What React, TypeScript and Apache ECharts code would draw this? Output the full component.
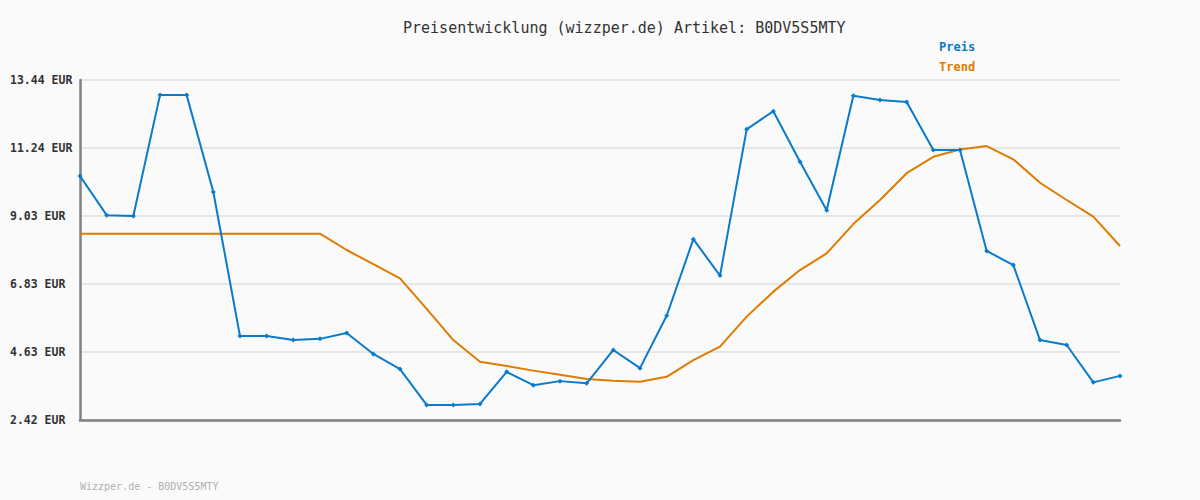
import React, { useEffect, useRef } from "react";
import * as echarts from "echarts";

const titleText = "Preisentwicklung (wizzper.de) Artikel: B0DV5S5MTY";
const footerText = "Wizzper.de - B0DV5S5MTY";

const categories: string[] = Array.from({ length: 40 }, (_, i) => String(i + 1));

const preis: number[] = [
  10.33, 9.06, 9.03, 12.95, 12.95, 9.81, 5.14, 5.14, 5.01, 5.05,
  5.24, 4.56, 4.07, 2.91, 2.91, 2.94, 3.98, 3.55, 3.68, 3.61,
  4.69, 4.10, 5.80, 8.28, 7.10, 11.84, 12.43, 10.79, 9.22, 12.93,
  12.79, 12.73, 11.17, 11.17, 7.90, 7.44, 5.01, 4.85, 3.64, 3.85,
];

const trend: number[] = [
  8.46, 8.46, 8.46, 8.46, 8.46, 8.46, 8.46, 8.46, 8.46, 8.46,
  7.93, 7.47, 7.01, 6.02, 5.01, 4.31, 4.17, 4.02, 3.89, 3.75,
  3.69, 3.66, 3.82, 4.36, 4.80, 5.77, 6.58, 7.28, 7.82, 8.77,
  9.55, 10.42, 10.95, 11.19, 11.30, 10.87, 10.11, 9.55, 9.01, 8.06,
];

const yMin = 2.42;
const yMax = 13.44;
const yTickLabels: string[] = ["2.42 EUR", "4.63 EUR", "6.83 EUR", "9.03 EUR", "11.24 EUR", "13.44 EUR"];

const BLUE = "#0a7acc";
const ORANGE = "#e07b00";
const MONO = "'DejaVu Sans Mono', 'Liberation Mono', monospace";

export default function App() {
  const ref = useRef<HTMLDivElement>(null);

  useEffect(() => {
    if (!ref.current) return;
    const chart = echarts.init(ref.current, undefined, { renderer: "svg" });
    chart.setOption({
      animation: false,
      backgroundColor: "#fafafa",
      title: {
        text: titleText,
        left: 403,
        top: 20,
        padding: 0,
        textStyle: {
          fontFamily: MONO,
          fontSize: 15,
          fontWeight: "normal",
          color: "#333333",
          lineHeight: 16,
        },
      },
      legend: {
        orient: "vertical",
        left: 933,
        top: 40,
        padding: 0,
        itemGap: 6,
        itemWidth: 0,
        itemHeight: 0,
        selectedMode: false,
        textStyle: {
          fontFamily: MONO,
          fontSize: 12,
          fontWeight: "bold",
          lineHeight: 14,
        },
        data: [
          { name: "Preis", textStyle: { color: BLUE } },
          { name: "Trend", textStyle: { color: ORANGE } },
        ],
      },
      grid: { left: 80, right: 80, top: 80, bottom: 80, containLabel: false },
      xAxis: {
        type: "category",
        data: categories,
        boundaryGap: false,
        axisLine: { show: true, lineStyle: { color: "#808080", width: 2.5 } },
        axisTick: { show: false },
        axisLabel: { show: false },
        splitLine: { show: false },
      },
      yAxis: [
        {
          type: "value",
          min: yMin,
          max: yMax,
          position: "left",
          axisLine: { show: false },
          axisTick: { show: false },
          axisLabel: { show: false },
          splitLine: { show: false },
        },
        {
          type: "value",
          min: 0,
          max: yTickLabels.length - 1,
          interval: 1,
          position: "left",
          axisLine: { show: true, lineStyle: { color: "#808080", width: 2.5 } },
          axisTick: { show: false },
          axisLabel: {
            show: true,
            align: "left",
            margin: 70,
            fontFamily: MONO,
            fontSize: 11.5,
            fontWeight: "bold",
            color: "#333333",
            formatter: (v: number) => yTickLabels[Math.round(v)] ?? "",
          },
          splitLine: { show: true, lineStyle: { color: "#e6e6e6", width: 2 } },
        },
      ],
      series: [
        {
          name: "Trend",
          type: "line",
          yAxisIndex: 0,
          data: trend,
          symbol: "none",
          lineStyle: { color: ORANGE, width: 2 },
          itemStyle: { color: ORANGE },
          z: 2,
        },
        {
          name: "Preis",
          type: "line",
          yAxisIndex: 0,
          data: preis,
          symbol: "diamond",
          symbolSize: 5,
          showSymbol: true,
          lineStyle: { color: BLUE, width: 2 },
          itemStyle: { color: BLUE },
          z: 3,
        },
      ],
      graphic: [
        {
          type: "text",
          left: 80,
          top: 481,
          style: {
            text: footerText,
            fill: "#b0b0b0",
            fontFamily: MONO,
            fontSize: 10,
          },
        },
      ],
    });
    return () => chart.dispose();
  }, []);

  return (
    <div
      ref={ref}
      style={{ position: "fixed", left: 0, top: 0, width: 1200, height: 500 }}
    />
  );
}
